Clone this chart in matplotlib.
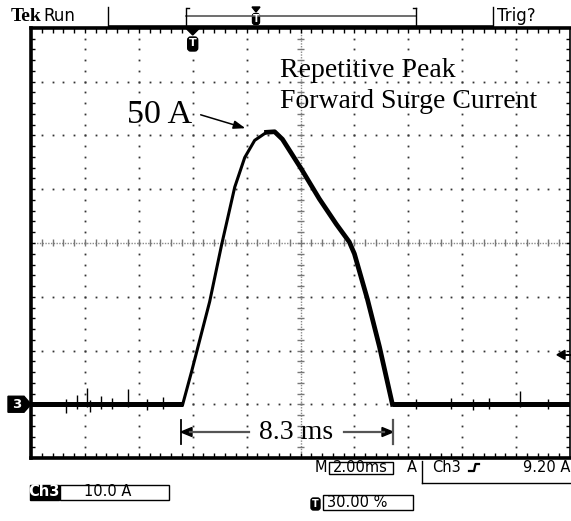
import numpy as np
import matplotlib
matplotlib.use("Agg")
import matplotlib.pyplot as plt
from matplotlib.patches import Rectangle, Polygon, FancyBboxPatch

# ---------------- data (time in ms, current in A) ----------------
pre_t = [0.0, 5.63]
pre_i = [0.0, 0.0]
pulse_t = [5.63, 5.96, 6.63, 7.07, 7.56, 7.93, 8.30, 8.74, 9.04, 9.33, 10.04, 10.70, 11.33, 11.81, 12.00, 12.48, 12.93, 13.41]
pulse_i = [0.0, 6.1, 19.1, 29.6, 40.4, 45.9, 49.1, 50.6, 50.7, 49.3, 43.7, 38.2, 33.5, 30.2, 28.0, 19.6, 10.7, 0.0]
post_t = [13.41, 20.0]
post_i = [0.0, 0.0]

# baseline noise spikes (time ms, low A, high A)
spike_t = [1.30, 1.70, 2.07, 2.20, 2.60, 3.00, 3.60, 4.30, 4.90, 14.3, 15.6, 16.4, 17.0, 18.15, 19.2]
spike_lo = [-1.7, -0.8, -0.6, -1.5, -0.8, -0.8, -0.6, -1.0, -0.9, -0.8, -0.8, -1.0, -0.8, -0.6, -0.8]
spike_hi = [0.9, 1.8, 3.1, 0.8, 1.6, 1.2, 2.8, 1.0, 1.3, 1.0, 1.2, 0.9, 1.1, 2.4, 1.0]

time_per_div = 2.0      # ms/div
amps_per_div = 10.0     # A/div
trigger_level = 9.2     # A
x_divs, y_divs = 10, 8
y_bottom = -10.0

header_labels = ["Tek", "Run", "Trig?"]
footer_labels = ["M", "2.00ms", "A", "Ch3", "9.20 A", "Ch3", "10.0 A", "30.00 %"]

# ---------------- figure ----------------
W, H = 571, 521
fig = plt.figure(figsize=(W / 100, H / 100), dpi=100)
fig.patch.set_facecolor("white")

L, T, R, B = 31, 28, 570, 458
ax = fig.add_axes([L / W, (H - B) / H, (R - L) / W, (B - T) / H])
xmax = x_divs * time_per_div
ymax = y_bottom + y_divs * amps_per_div
ax.set_xlim(0, xmax)
ax.set_ylim(y_bottom, ymax)
ax.set_xticks([])
ax.set_yticks([])
for s in ax.spines.values():
    s.set_linewidth(2.6)
    s.set_color("black")
ax.spines["right"].set_linewidth(1.2)

px_x = xmax / (R - L)   # ms per pixel
px_y = (ymax - y_bottom) / (B - T)  # A per pixel
xc = xmax / 2
yc = (y_bottom + ymax) / 2

# grid dots
xs_minor = np.arange(0, xmax + 1e-9, time_per_div / 5)
ys_minor = np.arange(y_bottom, ymax + 1e-9, amps_per_div / 5)
for k in range(1, y_divs):
    yy = y_bottom + k * amps_per_div
    if abs(yy - yc) < 1e-9:
        continue
    ax.plot(xs_minor[1:-1], [yy] * (len(xs_minor) - 2), ls="none", marker="s",
            ms=1.3, mew=0, color="#333333", zorder=1)
for k in range(1, x_divs):
    xx = k * time_per_div
    if abs(xx - xc) < 1e-9:
        continue
    ax.plot([xx] * (len(ys_minor) - 2), ys_minor[1:-1], ls="none", marker="s",
            ms=1.3, mew=0, color="#333333", zorder=1)

# centre cross lines
ax.axhline(yc, color="#8a8a8a", lw=1.0, ls=(0, (1, 1)), zorder=1)
ax.axvline(xc, color="#8a8a8a", lw=1.0, ls=(0, (1, 1)), zorder=1)
ax.vlines(xs_minor[1:-1], yc - 3.5 * px_y, yc + 3.5 * px_y, color="#777777", lw=1.0, zorder=1)
ax.hlines(ys_minor[1:-1], xc - 3.5 * px_x, xc + 3.5 * px_x, color="#777777", lw=1.0, zorder=1)

# border ticks
ax.vlines(xs_minor[1:-1], ymax - 5 * px_y, ymax, color="black", lw=1.0, zorder=1)
ax.vlines(xs_minor[1:-1], y_bottom, y_bottom + 5 * px_y, color="black", lw=1.0, zorder=1)
ax.hlines(ys_minor[1:-1], 0, 4 * px_x, color="black", lw=1.0, zorder=1)
ax.hlines(ys_minor[1:-1], xmax - 4 * px_x, xmax, color="black", lw=1.0, zorder=1)

# trace
ax.plot(pre_t, pre_i, color="black", lw=3.6, zorder=3, solid_capstyle="butt")
ax.plot(post_t, post_i, color="black", lw=3.6, zorder=3, solid_capstyle="butt")
ax.plot(pulse_t[:8], pulse_i[:8], color="black", lw=2.2, zorder=3)
ax.plot(pulse_t[7:], pulse_i[7:], color="black", lw=3.4, zorder=3)
ax.vlines(spike_t, spike_lo, spike_hi, color="black", lw=1.0, zorder=3)

# ---------------- overlay in pixel coordinates ----------------
ov = fig.add_axes([0, 0, 1, 1], zorder=5)
ov.set_xlim(0, W)
ov.set_ylim(H, 0)
ov.axis("off")
ov.patch.set_alpha(0)

serif = "Liberation Serif"
ov.text(280, 77, "Repetitive Peak", family=serif, fontsize=20, ha="left", va="baseline")
ov.text(280, 108, "Forward Surge Current", family=serif, fontsize=20, ha="left", va="baseline")
ov.text(127, 123, "50 A", family=serif, fontsize=24.5, ha="left", va="baseline")
ov.annotate("", xy=(248, 129), xytext=(198, 114),
            arrowprops=dict(arrowstyle="-|>,head_length=0.7,head_width=0.25", color="black", lw=1.1))

# 8.3 ms dimension
ov.plot([181, 181], [420, 444], color="black", lw=1.3)
ov.plot([393, 393], [420, 444], color="#555555", lw=1.6)
ov.plot([190, 249], [432, 432], color="#555555", lw=1.6)
ov.plot([344, 384], [432, 432], color="#555555", lw=1.6)
ov.add_patch(Polygon([[181, 432], [192, 427.5], [192, 436.5]], closed=True, color="black"))
ov.add_patch(Polygon([[393, 432], [382, 427.5], [382, 436.5]], closed=True, color="black"))
ov.text(296, 439, "8.3 ms", family=serif, fontsize=20, ha="center", va="baseline")

# header
ov.text(11, 21, header_labels[0], family=serif, fontweight="bold", fontsize=14, ha="left", va="baseline")
ov.text(43, 21, header_labels[1], family="DejaVu Sans", fontsize=12, ha="left", va="baseline")
ov.text(497, 21, header_labels[2], family="DejaVu Sans", fontsize=12, ha="left", va="baseline")
ov.plot([108, 108], [7, 27], color="black", lw=1.0)
ov.plot([493, 493], [7, 27], color="black", lw=1.0)
ov.plot([108, 493], [26.5, 26.5], color="black", lw=2.6, solid_capstyle="butt")
ov.plot([186, 416], [16, 16], color="#555555", lw=1.2)
ov.plot([186, 186], [8, 25], color="black", lw=1.0)
ov.plot([416, 416], [8, 25], color="black", lw=1.0)
ov.plot([187, 189], [8, 8], color="black", lw=1.0)
ov.plot([413, 416], [8, 8], color="black", lw=1.0)
ov.add_patch(Polygon([[252, 7], [260, 7], [256, 12]], closed=True, color="black"))
ov.add_patch(FancyBboxPatch((252.5, 13.5), 7, 11, boxstyle="round,pad=0,rounding_size=2.5", color="black"))
ov.text(256, 19.5, "T", color="white", fontsize=7, fontweight="bold", ha="center", va="center")

# trigger position marker below top border
trig_x = L + 0.30 * (R - L)
ov.add_patch(Polygon([[trig_x - 6, 29], [trig_x + 6, 29], [trig_x, 35]], closed=True, color="black"))
ov.add_patch(FancyBboxPatch((trig_x - 5, 37), 10, 14, boxstyle="round,pad=0,rounding_size=3", color="black"))
ov.text(trig_x, 43.5, "T", color="white", fontsize=8, fontweight="bold", ha="center", va="center")

# channel 3 ground marker
g_y = B - (0 - y_bottom) / px_y
ov.add_patch(Polygon([[8, g_y - 8], [24, g_y - 8], [31, g_y], [24, g_y + 8], [8, g_y + 8]],
                     closed=True, color="black"))
ov.text(17, g_y + 0.5, "3", color="white", fontsize=9.5, fontweight="bold", ha="center", va="center")

# trigger level arrow at right
t_y = B - (trigger_level - y_bottom) / px_y
ov.add_patch(Polygon([[557, t_y], [565, t_y - 4.5], [565, t_y + 4.5]], closed=True, color="black"))
ov.plot([563, 571], [t_y, t_y], color="black", lw=1.4)

# footer
sans = "DejaVu Sans"
fs = 10.5
ov.text(327, 472, footer_labels[0], family=sans, fontsize=fs, ha="right", va="baseline")
ov.add_patch(Rectangle((329, 461.5), 64, 12, fill=False, lw=1.0, ec="black"))
ov.text(333, 472, footer_labels[1], family=sans, fontsize=fs, ha="left", va="baseline")
ov.text(407, 472, footer_labels[2], family=sans, fontsize=fs, ha="left", va="baseline")
ov.plot([421.5, 421.5], [461, 483], color="black", lw=1.0)
ov.plot([421.5, 571], [483, 483], color="black", lw=1.0)
ov.text(432, 472, footer_labels[3], family=sans, fontsize=fs, ha="left", va="baseline")
ov.plot([469, 474, 475.5, 479], [471, 471, 464, 464], color="black", lw=1.6)
ov.text(570, 472, footer_labels[4], family=sans, fontsize=fs, ha="right", va="baseline")

ov.add_patch(Rectangle((29.5, 485), 29, 15, color="black"))
ov.text(44, 496.5, footer_labels[5], family=sans, fontsize=fs, color="white", fontweight="bold",
        ha="center", va="baseline")
ov.add_patch(Rectangle((60, 485), 109, 15, fill=False, lw=1.0, ec="black"))
ov.text(84, 496.5, footer_labels[6], family=sans, fontsize=fs, ha="left", va="baseline")

ov.add_patch(FancyBboxPatch((311, 498), 9, 12, boxstyle="round,pad=0,rounding_size=2.5", color="black"))
ov.text(315.5, 504, "T", color="white", fontsize=7, fontweight="bold", ha="center", va="center")
ov.add_patch(Rectangle((323, 495), 90, 15, fill=False, lw=1.0, ec="black"))
ov.text(327, 507, footer_labels[7], family=sans, fontsize=fs, ha="left", va="baseline")

fig.savefig("out.png", dpi=100, facecolor="white")
